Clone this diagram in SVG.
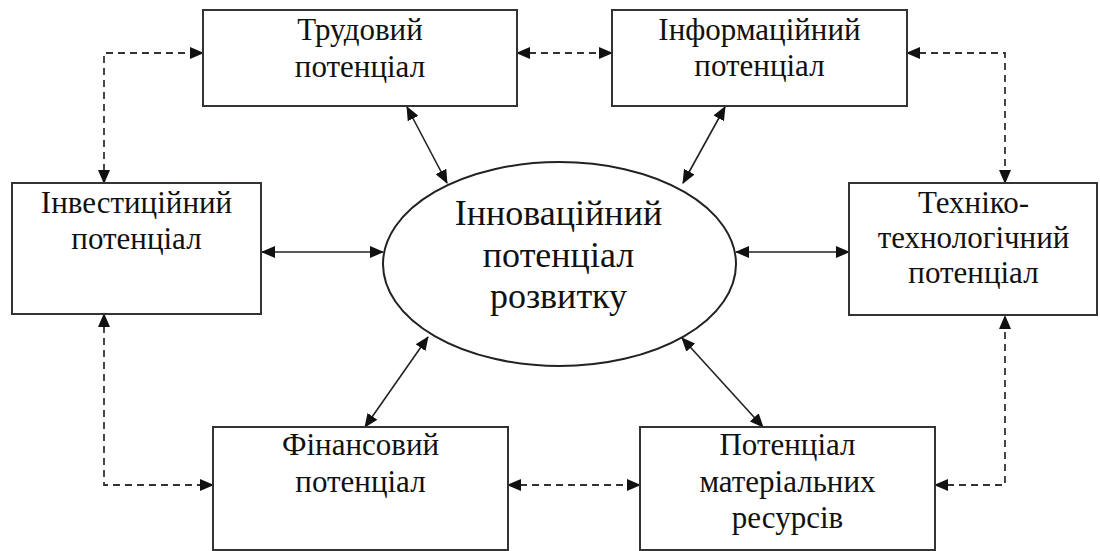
<svg xmlns="http://www.w3.org/2000/svg" width="1100" height="551" viewBox="0 0 1100 551">
<defs>
<style>
.box{fill:#fff;stroke:#333;stroke-width:2}
.ell{fill:#fff;stroke:#222;stroke-width:2}
.t{font-size:31px;fill:#111;text-anchor:middle}
.tc{font-size:36px;fill:#111;text-anchor:middle}
.sol{fill:none;stroke:#222;stroke-width:1.6;marker-start:url(#ah);marker-end:url(#ah)}
.dash{fill:none;stroke:#333;stroke-width:1.8;stroke-dasharray:7 5;marker-start:url(#ah);marker-end:url(#ah)}
</style>
<marker id="ah" markerUnits="userSpaceOnUse" markerWidth="14" markerHeight="12" refX="13" refY="6" orient="auto-start-reverse" viewBox="0 0 14 12">
<path d="M0,0 L14,6 L0,12 z" fill="#111"/>
</marker>
</defs>
<rect width="1100" height="551" fill="#fff"/>
<g id="diagram" font-family="Liberation Serif, Times New Roman, serif">
<g id="connectors">
<line class="sol" x1="407" y1="107" x2="447" y2="183"/>
<line class="sol" x1="725" y1="107" x2="683" y2="183"/>
<line class="sol" x1="262" y1="252" x2="383" y2="252"/>
<line class="sol" x1="736" y1="252" x2="849" y2="252"/>
<line class="sol" x1="428" y1="337" x2="365" y2="427"/>
<line class="sol" x1="682" y1="338" x2="763" y2="427"/>
<path class="dash" d="M104,183 V53 H203"/>
<path class="dash" d="M517,53 H612"/>
<path class="dash" d="M907,53 H1005 V183"/>
<path class="dash" d="M104,314 V485 H213"/>
<path class="dash" d="M508,485 H640"/>
<path class="dash" d="M935,485 H1005 V316"/>
</g>
<g id="center">
<ellipse class="ell" cx="559.5" cy="264" rx="176.5" ry="102"/>
<text class="tc" x="558.5" y="225">Інноваційний</text>
<text class="tc" x="558.5" y="267">потенціал</text>
<text class="tc" x="558.5" y="308">розвитку</text>
</g>
<g id="trudovyi">
<rect class="box" x="203" y="10" width="314" height="96"/>
<text class="t" x="360" y="40">Трудовий</text>
<text class="t" x="360" y="77">потенціал</text>
</g>
<g id="informatsiinyi">
<rect class="box" x="612" y="10" width="295" height="96"/>
<text class="t" x="759.5" y="40">Інформаційний</text>
<text class="t" x="759.5" y="76">потенціал</text>
</g>
<g id="investytsiinyi">
<rect class="box" x="12" y="183" width="249" height="131"/>
<text class="t" x="136.5" y="213">Інвестиційний</text>
<text class="t" x="136.5" y="249">потенціал</text>
</g>
<g id="tekhniko">
<rect class="box" x="849" y="183" width="248" height="132"/>
<text class="t" x="973.5" y="213">Техніко-</text>
<text class="t" x="973.5" y="248">технологічний</text>
<text class="t" x="973.5" y="283">потенціал</text>
</g>
<g id="finansovyi">
<rect class="box" x="213" y="427" width="295" height="123"/>
<text class="t" x="360.5" y="455">Фінансовий</text>
<text class="t" x="360.5" y="492">потенціал</text>
</g>
<g id="materialni">
<rect class="box" x="640" y="427" width="295" height="123"/>
<text class="t" x="787.5" y="455">Потенціал</text>
<text class="t" x="787.5" y="492">матеріальних</text>
<text class="t" x="787.5" y="528">ресурсів</text>
</g>
</g>
</svg>
